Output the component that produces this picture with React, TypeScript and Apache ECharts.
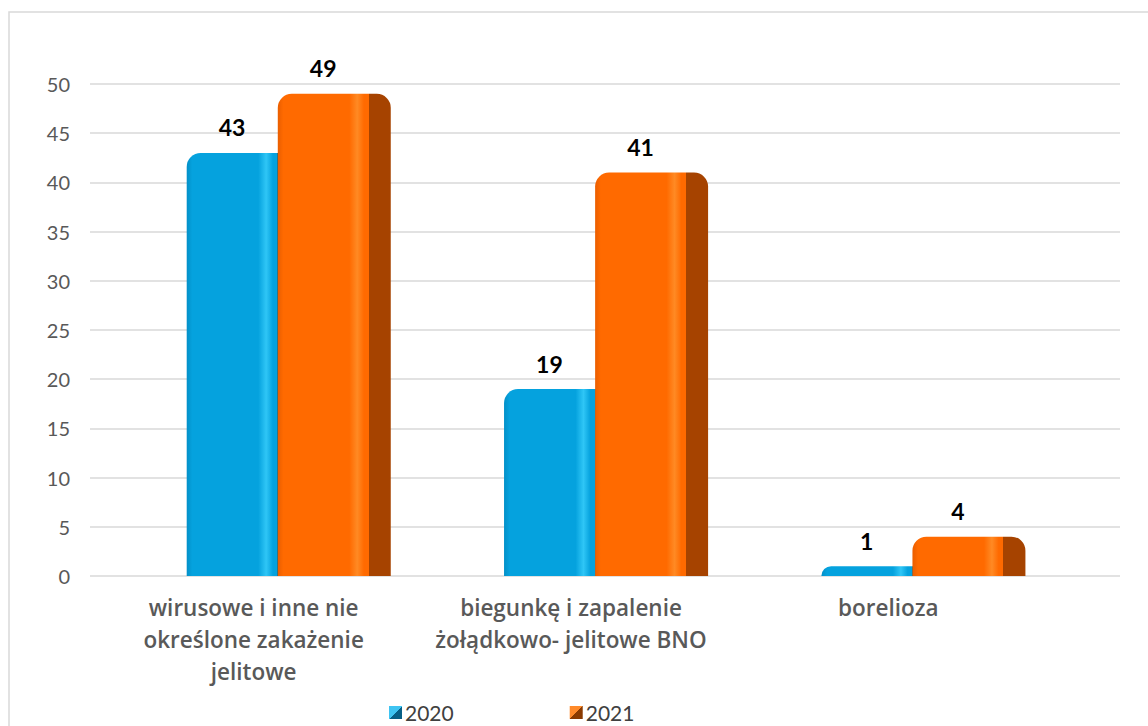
import React, { useEffect, useRef } from "react";
import * as echarts from "echarts";

const categories = [
  "wirusowe i inne nie\nokreślone zakażenie\njelitowe",
  "biegunkę i zapalenie\nżołądkowo- jelitowe BNO",
  "borelioza",
];
const seriesNames = ["2020", "2021"];
const values2020 = [43, 19, 1];
const values2021 = [49, 41, 4];
const yTicks = { min: 0, max: 50, interval: 5 };

const palette = [
  { edge: "#0390C8", base: "#05A2DE", hi: "#2FC6F6", side: "#04779F", light: "#3FC4F2", dark: "#075F86" },
  { edge: "#EA5E00", base: "#FF6A00", hi: "#FF8A24", side: "#A64300", light: "#FF8A2A", dark: "#8A3A00" },
];

const FONT = "Lato, 'Noto Sans', sans-serif";
const CAT_FONT = "'Open Sans', Lato, sans-serif";

export default function App() {
  const ref = useRef<HTMLDivElement>(null);
  useEffect(() => {
    if (!ref.current) return;
    const chart = echarts.init(ref.current, undefined, { renderer: "svg" });

    const makeRender = (sIdx: number) => (params: any, api: any) => {
      const i = api.value(0);
      const v = api.value(1);
      const top = api.coord([i, v]);
      const base = api.coord([i, 0]);
      const band = api.size([1, 0])[0];
      const frontW = band * 0.286;
      const sideW = band * 0.07;
      const x0 = sIdx === 0 ? top[0] - band * 0.211 : top[0] + band * 0.076;
      const h = base[1] - top[1];
      const total = frontW + sideW;
      const f = frontW / total;
      const c = palette[sIdx];
      const grad = new echarts.graphic.LinearGradient(0, 0, 1, 0, [
        { offset: 0, color: c.edge },
        { offset: 0.05, color: c.base },
        { offset: f - 0.17, color: c.base },
        { offset: f - 0.1, color: c.hi },
        { offset: f - 0.04, color: c.base },
        { offset: f, color: c.base },
        { offset: f, color: c.side },
        { offset: 1, color: c.side },
      ]);
      const r = Math.min(14, h);
      return {
        type: "group",
        children: [
          {
            type: "rect",
            shape: { x: x0, y: top[1], width: total, height: h, r: [r, r, 0, 0] },
            style: { fill: grad },
          },
          {
            type: "text",
            style: {
              text: String(v),
              x: x0 + frontW / 2,
              y: top[1] - 14,
              align: "center",
              verticalAlign: "bottom",
              fill: "#000000",
              font: `bold 23px ${FONT}`,
            },
          },
        ],
      };
    };

    const diag = (c: any) =>
      new echarts.graphic.LinearGradient(0, 0, 1, 1, [
        { offset: 0, color: c.light },
        { offset: 0.5, color: c.light },
        { offset: 0.5, color: c.dark },
        { offset: 1, color: c.dark },
      ]);

    const option: any = {
      animation: false,
      backgroundColor: "#ffffff",
      graphic: [
        {
          type: "rect",
          shape: { x: 9, y: 12, width: 1300, height: 900 },
          style: { fill: "none", stroke: "#D9D9D9", lineWidth: 1.5 },
          silent: true,
          z: -10,
        },
      ],
      grid: [
        { left: 90, right: 28, top: 84, bottom: 150 },
        { left: 95, width: 952, top: 84, bottom: 150 },
      ],
      xAxis: [
        { type: "value", gridIndex: 0, show: false, min: 0, max: 1 },
        {
          type: "category",
          gridIndex: 1,
          data: categories,
          axisLine: { show: false },
          axisTick: { show: false },
          axisLabel: {
            interval: 0,
            margin: 15,
            color: "#595959",
            fontFamily: CAT_FONT,
            fontWeight: 600,
            fontSize: 22.5,
            lineHeight: 32,
            align: "center",
          },
        },
      ],
      yAxis: [
        {
          type: "value",
          gridIndex: 0,
          min: yTicks.min,
          max: yTicks.max,
          interval: yTicks.interval,
          axisLine: { show: false },
          axisTick: { show: false },
          splitLine: { lineStyle: { color: "#D9D9D9", width: 1.5 } },
          axisLabel: { margin: 20, color: "#595959", fontFamily: FONT, fontSize: 20 },
        },
        {
          type: "value",
          gridIndex: 1,
          min: yTicks.min,
          max: yTicks.max,
          interval: yTicks.interval,
          show: false,
          splitLine: { show: false },
        },
      ],
      legend: {
        left: 384,
        top: 697,
        itemWidth: 13,
        itemHeight: 13,
        itemGap: 116,
        icon: "rect",
        textStyle: { color: "#404040", fontFamily: FONT, fontSize: 21, padding: [0, 0, 0, -2] },
        data: [
          { name: seriesNames[0], itemStyle: { color: diag(palette[0]) } },
          { name: seriesNames[1], itemStyle: { color: diag(palette[1]) } },
        ],
      },
      series: [
        {
          type: "custom",
          name: seriesNames[0],
          xAxisIndex: 1,
          yAxisIndex: 1,
          itemStyle: { color: palette[0].base },
          encode: { x: 0, y: 1 },
          data: values2020.map((v, i) => [i, v]),
          renderItem: makeRender(0),
          z: 2,
        },
        {
          type: "custom",
          name: seriesNames[1],
          xAxisIndex: 1,
          yAxisIndex: 1,
          itemStyle: { color: palette[1].base },
          encode: { x: 0, y: 1 },
          data: values2021.map((v, i) => [i, v]),
          renderItem: makeRender(1),
          z: 3,
        },
      ],
    };
    chart.setOption(option);
    return () => chart.dispose();
  }, []);
  return (
    <div
      ref={ref}
      style={{ position: "fixed", left: 0, top: 0, width: 1148, height: 726 }}
    />
  );
}
